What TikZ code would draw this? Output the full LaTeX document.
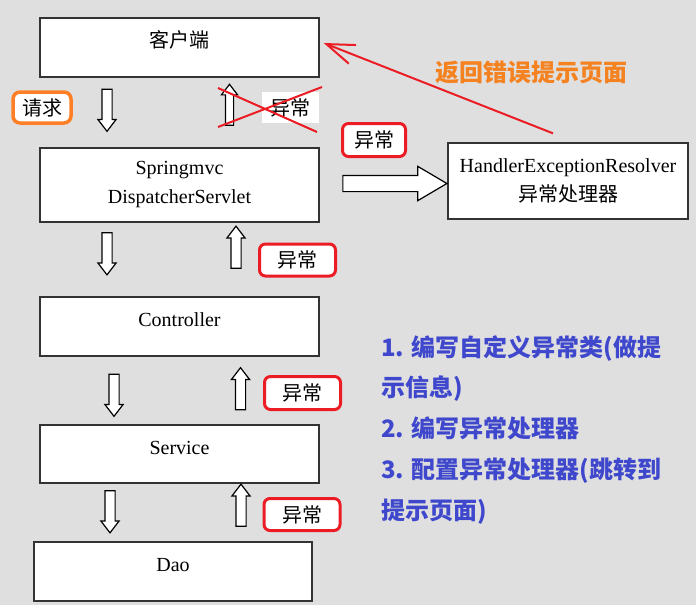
\documentclass[tikz,border=0pt]{standalone}
\usepackage{fontspec}
\setmainfont{Liberation Serif}
\newfontfamily\cjk{Noto Sans CJK SC}
\usetikzlibrary{arrows.meta, shapes.arrows}
\definecolor{pagegray}{HTML}{DFDFDF}
\definecolor{layerline}{HTML}{333333}
\definecolor{errorred}{HTML}{EC1C24}
\definecolor{requestorange}{HTML}{FF7F27}
\definecolor{noteorange}{HTML}{F58220}
\definecolor{noteblue}{HTML}{3F48CC}

\begin{document}
\begin{tikzpicture}[
        x=1pt, y=-1pt,
        layerbox/.style={
            draw=layerline,
            line width=1.3pt,
            fill=white,
            inner sep=0pt,
            minimum width=279pt,
            minimum height=59pt,
            text height=13pt,
            text depth=13pt,
            font=\fontsize{20}{24}\selectfont
        },
        twolinebox/.style={
            draw=layerline,
            line width=1.3pt,
            fill=white,
            inner sep=0pt,
            align=center,
            font=\fontsize{20}{29}\selectfont
        },
        errortag/.style={
            draw=errorred,
            line width=3pt,
            rounded corners=6pt,
            fill=white,
            inner sep=0pt,
            minimum width=76pt,
            minimum height=32pt,
            font=\cjk\fontsize{20}{24}\selectfont
        },
        flowdown/.style={
            single arrow,
            draw,
            fill=white,
            line width=1.2pt,
            inner sep=4.5pt,
            shape border rotate=270,
            minimum height=42pt,
            minimum width=17pt,
            single arrow head extend=4pt,
            single arrow tip angle=75
        },
        flowup/.style={flowdown, shape border rotate=90},
        strike/.style={errorred, line width=2pt},
        returnlink/.style={-{Straight Barb[length=28pt, width=20pt, line width=2pt]}, line width=2pt, errorred}
    ]
        \path[fill=pagegray, use as bounding box] (0,0) rectangle (696,605);

        % layers
        \node[layerbox] (client) at (179.5,47.5) {\cjk 客户端};
        \node[twolinebox, minimum width=279pt, minimum height=74pt] (dispatcher) at (179.5,185) {Springmvc\\DispatcherServlet};
        \node[layerbox] (controller) at (179.5,326.5) {Controller};
        \node[layerbox, minimum height=58pt] (service) at (179.5,454) {Service};
        \node[layerbox, minimum width=278pt] (dao) at (173,571.5) {Dao};
        \node[twolinebox, minimum width=240pt, minimum height=76pt] (handler) at (568,181) {HandlerExceptionResolver\\{\cjk 异常处理器}};

        % request side
        \node[flowdown] (request) at (107,107) {};
        \node[draw=requestorange, line width=3.5pt, rounded corners=7pt, fill=white, inner sep=0pt,
              minimum width=58pt, minimum height=31pt, font=\cjk\fontsize{20}{24}\selectfont] (requesttag) at (42,107.5) {请求};

        % crossed out exception
        \node[flowup, inner sep=3.5pt, minimum height=41pt, minimum width=15pt] (crossedup) at (229.5,107.5) {};
        \node[fill=white, inner sep=0pt, minimum width=57pt, minimum height=31pt,
              font=\cjk\fontsize{20}{24}\selectfont] (crossedtag) at (290.5,107.5) {异常};
        \draw[strike] (218,88) -- (317,132);
        \draw[strike] (218,127) -- (322,87);

        % down the stack
        \node[flowdown] (down1) at (107,250.5) {};
        \node[flowdown] (down2) at (114,392) {};
        \node[flowdown] (down3) at (110,508.5) {};

        % exceptions back up
        \node[flowup] (up1) at (236,250.5) {};
        \node[flowup] (up2) at (240.5,392) {};
        \node[flowup] (up3) at (241,508.5) {};
        \node[errortag] (error1) at (297.5,260) {异常};
        \node[errortag, minimum height=33pt] (error2) at (302.5,393) {异常};
        \node[errortag] (error3) at (302,514.5) {异常};

        % to the resolver
        \node[flowdown, shape border rotate=0, inner sep=7.5pt, minimum height=104pt, minimum width=33pt,
              single arrow head extend=9pt, single arrow tip angle=61] (toresolver) at (388,183.5) {};
        \node[errortag, minimum width=63pt, minimum height=33pt] (error0) at (374,140) {异常};

        \draw[returnlink] ([xshift=-15pt, yshift=9pt]handler.north) -- ([xshift=4pt, yshift=4.5pt]client.east);
        \node[font=\cjk\bfseries\fontsize{24}{28}\selectfont, text=noteorange] (returnnote) at (531,72) {返回错误提示页面};

        % steps
        \node[anchor=north west, align=left, inner sep=0pt, text=noteblue,
              font=\cjk\bfseries\fontsize{24}{40.75}\selectfont] (steps) at (381,335)
            {1. 编写自定义异常类(做提\\示信息)\\2. 编写异常处理器\\3. 配置异常处理器(跳转到\\提示页面)};
\end{tikzpicture}
\end{document}
